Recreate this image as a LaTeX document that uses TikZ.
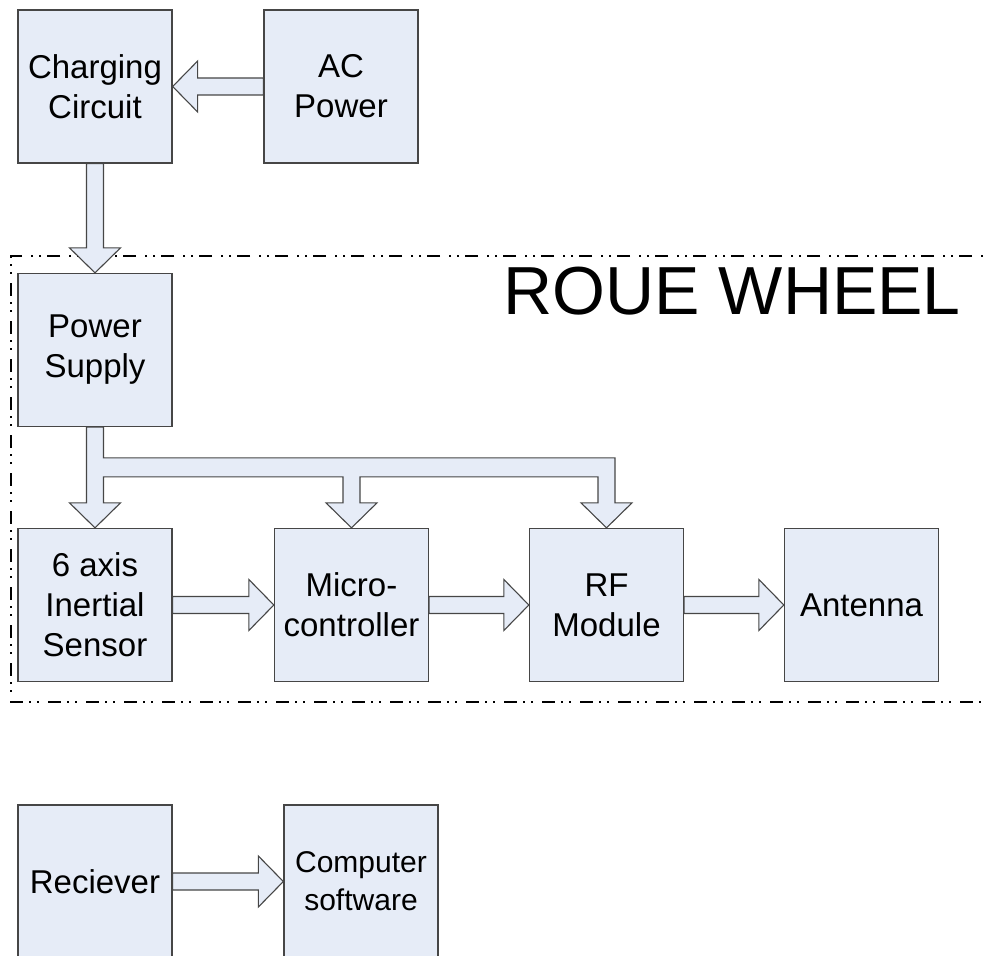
\documentclass[tikz,border=0pt]{standalone}
\usepackage{fontspec}
\setmainfont{Liberation Sans}
\usetikzlibrary{calc}

\definecolor{boxfill}{RGB}{230,236,247}
\definecolor{boxline}{RGB}{70,70,70}

\tikzset{
  block/.style={draw=boxline, fill=boxfill, line width=1.3pt,
    minimum width=154pt, minimum height=153pt, inner sep=0pt,
    align=center, font=\fontsize{33}{40}\selectfont},
  flow/.style={draw=boxline, fill=boxfill, line width=1.1pt, line join=miter},
  wheelframe/.style={draw=black, line width=1.1pt,
    dash pattern=on 13pt off 6pt on 2pt off 6pt on 2pt off 9pt},
  titletext/.style={inner sep=0pt, font=\fontsize{68}{80}\selectfont},
}

% Hollow block arrow from #1 to #2 (tip at #2): shaft 17pt, head 51pt wide, 25pt long
\newcommand{\flowarrow}[2]{%
  \path (#1) coordinate (fa-s) (#2) coordinate (fa-t)
        ($(#2)!25pt!(#1)$) coordinate (fa-h);
  \draw[flow] ($(fa-s)!8.5pt!90:(fa-t)$)
    -- ($(fa-h)!8.5pt!90:(fa-t)$)
    -- ($(fa-h)!25.5pt!90:(fa-t)$)
    -- (fa-t)
    -- ($(fa-h)!25.5pt!-90:(fa-t)$)
    -- ($(fa-h)!8.5pt!-90:(fa-t)$)
    -- ($(fa-s)!8.5pt!-90:(fa-t)$) -- cycle;}

\begin{document}
\begin{tikzpicture}[x=1pt, y=-1pt]
  \useasboundingbox (0,0) rectangle (987,955);
  \clip (0,0) rectangle (987,955);

  % enclosure of the wheel electronics
  \draw[wheelframe] (1010,256) -- (11,256) -- (11,702) -- (1010,702);
  \node[titletext, anchor=base east] (title) at (961,314) {ROUE WHEEL};

  % blocks
  \node[block] (charging) at (95,86.5)   {Charging\\Circuit};
  \node[block] (ac)       at (341,86.5)  {AC\\Power};
  \node[block] (power)    at (95,350)    {Power\\Supply};
  \node[block] (sensor)   at (95,605)    {6 axis\\Inertial\\Sensor};
  \node[block] (micro)    at (351.5,605) {Micro-\\controller};
  \node[block] (rf)       at (606.5,605) {RF\\Module};
  \node[block] (antenna)  at (861.5,605) {Antenna};
  \node[block] (receiver) at (95,881.5)  {Reciever};
  \node[block, font=\fontsize{30}{38}\selectfont] (computer) at (361,881.5) {Computer\\software};

  % simple links
  \flowarrow{ac.west}{charging.east}
  \flowarrow{charging.south}{power.north}
  \flowarrow{sensor.east}{micro.west}
  \flowarrow{micro.east}{rf.west}
  \flowarrow{rf.east}{antenna.west}
  \flowarrow{receiver.east}{computer.west}

  % power distribution bus
  \draw[flow]
    ($(power.south)+(-8.5,0)$)
    -- ($(sensor.north)+(-8.5,-25)$) -- ($(sensor.north)+(-25.5,-25)$)
    -- (sensor.north)
    -- ($(sensor.north)+(25.5,-25)$) -- ($(sensor.north)+(8.5,-25)$)
    -- ($(sensor.north)+(8.5,-51)$)
    -- ($(micro.north)+(-8.5,-51)$)
    -- ($(micro.north)+(-8.5,-25)$) -- ($(micro.north)+(-25.5,-25)$)
    -- (micro.north)
    -- ($(micro.north)+(25.5,-25)$) -- ($(micro.north)+(8.5,-25)$)
    -- ($(micro.north)+(8.5,-51)$)
    -- ($(rf.north)+(-8.5,-51)$)
    -- ($(rf.north)+(-8.5,-25)$) -- ($(rf.north)+(-25.5,-25)$)
    -- (rf.north)
    -- ($(rf.north)+(25.5,-25)$) -- ($(rf.north)+(8.5,-25)$)
    -- ($(rf.north)+(8.5,-70)$)
    -- ($(sensor.north)+(8.5,-70)$)
    -- ($(power.south)+(8.5,0)$) -- cycle;
\end{tikzpicture}
\end{document}
